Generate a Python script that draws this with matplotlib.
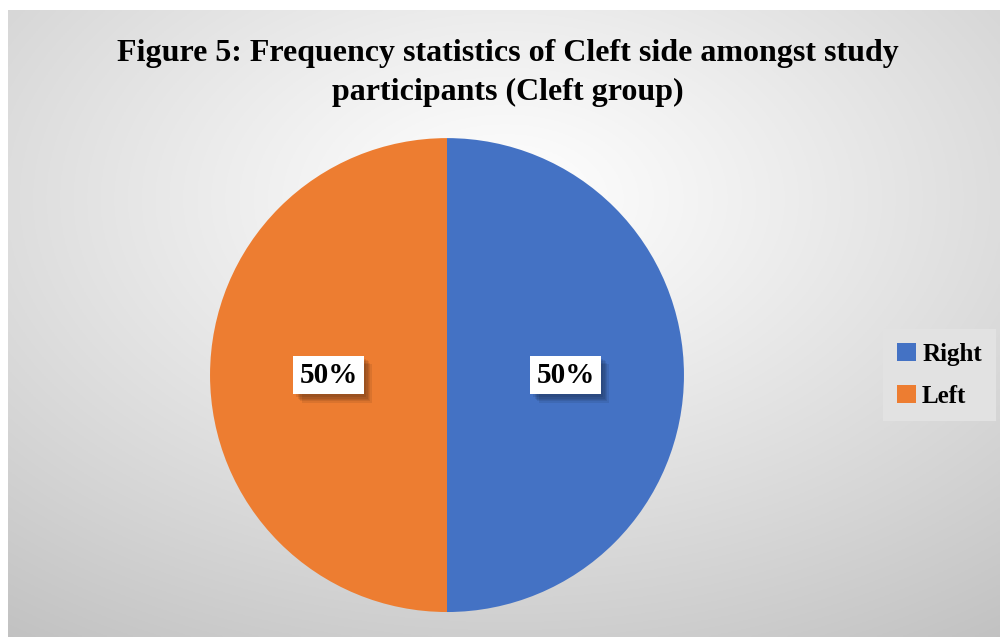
import numpy as np
import matplotlib
matplotlib.use("Agg")
import matplotlib.pyplot as plt
import matplotlib.patheffects as pe

# data
labels = ["Right", "Left"]
values = [50, 50]
colors = ["#4472C4", "#ED7D31"]
title = "Figure 5: Frequency statistics of Cleft side amongst study\nparticipants (Cleft group)"

plt.rcParams["font.family"] = ["Liberation Serif", "DejaVu Serif"]

fig = plt.figure(figsize=(10, 6.37), dpi=100)
fig.patch.set_facecolor("white")

# radial gradient background
bg = fig.add_axes([0.008, 0.0, 0.992, 0.984])
bg.set_axis_off()
ny, nx = 300, 470
yy, xx = np.mgrid[0:ny, 0:nx]
cx, cy = nx * 0.50, ny * 0.30
d = np.sqrt(((xx - cx) / nx) ** 2 + ((yy - cy) / ny) ** 2)
d = d / d.max()
shade = 1.0 - 0.24 * d ** 1.1
img = np.dstack([shade, shade, shade])
bg.imshow(img, aspect="auto", extent=[0, 1, 0, 1], origin="upper")
bg.set_xlim(0, 1)
bg.set_ylim(0, 1)

fig.text(0.508, 0.886, title, ha="center", va="center", fontsize=23,
         fontweight="bold", linespacing=1.45)

# pie
ax = fig.add_axes([0.210, 0.0392, 0.474, 0.744])
wedges, texts, autotexts = ax.pie(values, colors=colors, startangle=90,
                                  counterclock=False, autopct="%1.0f%%",
                                  pctdistance=0.5, radius=1.0,
                                  wedgeprops=dict(linewidth=0))
ax.set_xlim(-1, 1)
ax.set_ylim(-1, 1)
shadow = [pe.SimplePatchShadow(offset=(o, -o), shadow_rgbFace="black", alpha=0.08)
          for o in (2, 3, 4, 5, 6)]
for t in autotexts:
    t.set_fontsize(21)
    t.set_fontweight("bold")
    t.set_color("black")
    t.set_bbox(dict(facecolor="white", edgecolor="none", boxstyle="square,pad=0.2"))
    t.get_bbox_patch().set_path_effects(shadow + [pe.Normal()])

leg = fig.legend(wedges, labels, loc="center", bbox_to_anchor=(0.9395, 0.411),
                 fontsize=18, frameon=True, handlelength=0.75, handleheight=0.75,
                 handletextpad=0.25, labelspacing=0.75, borderpad=0.55)
for t in leg.get_texts():
    t.set_fontweight("bold")
leg.get_frame().set_facecolor("#e2e2e2")
leg.get_frame().set_edgecolor("none")
leg.get_frame().set_alpha(1)
leg.get_frame().set_boxstyle("square", pad=0.0)

fig.savefig("out.png", dpi=100)
